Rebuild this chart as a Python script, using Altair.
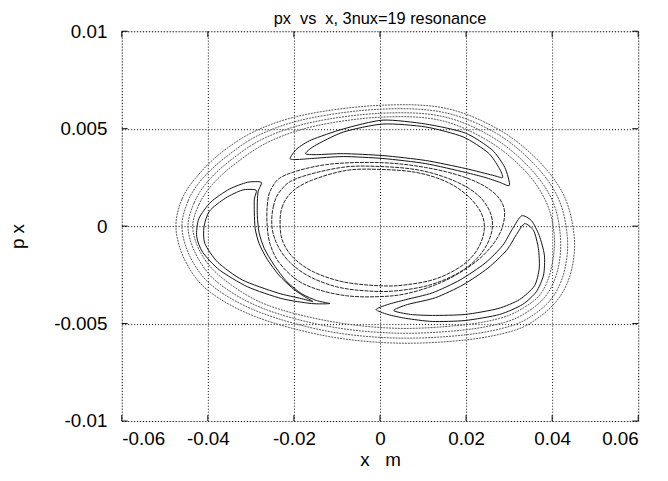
import altair as alt
import pandas as pd

TITLE = "px\u00a0\u00a0vs\u00a0\u00a0x, 3nux=19 resonance"
X_TITLE = "x\u00a0\u00a0\u00a0m"
Y_TITLE = "p x"
X_TICKS = [-0.06, -0.04, -0.02, 0, 0.02, 0.04, 0.06]
Y_TICKS = [-0.01, -0.005, 0, 0.005, 0.01]

# (x [m], px) points read along each orbit
OUTER_RING_1 = [(-0.0474, -0.00013), (-0.0460, 0.00139), (-0.0423, 0.00261), (-0.0366, 0.00382), (-0.0285, 0.00493), (-0.0170, 0.00574), (0.0, 0.00620), (0.0152, 0.00605), (0.0278, 0.00493), (0.0370, 0.00331), (0.0428, 0.00154), (0.0451, -0.00048), (0.0446, -0.00215), (0.0421, -0.00352), (0.0375, -0.00458), (0.0313, -0.00534), (0.0198, -0.00584), (0.0037, -0.00600), (-0.0124, -0.00564), (-0.0285, -0.00468), (-0.0396, -0.00336), (-0.0451, -0.00185)]
OUTER_RING_2 = [(-0.0460, -0.00013), (-0.0446, 0.00129), (-0.0412, 0.00245), (-0.0354, 0.00362), (-0.0276, 0.00473), (-0.0163, 0.00554), (0.0, 0.00600), (0.0147, 0.00584), (0.0269, 0.00478), (0.0359, 0.00316), (0.0414, 0.00144), (0.0435, -0.00048), (0.0430, -0.00215), (0.0405, -0.00352), (0.0361, -0.00448), (0.0301, -0.00514), (0.0193, -0.00559), (0.0037, -0.00574), (-0.0122, -0.00539), (-0.0278, -0.00443), (-0.0384, -0.00316), (-0.0437, -0.00175)]
OUTER_RING_3 = [(-0.0446, -0.00013), (-0.0432, 0.00119), (-0.0400, 0.00230), (-0.0345, 0.00342), (-0.0267, 0.00453), (-0.0156, 0.00534), (0.0, 0.00579), (0.0143, 0.00564), (0.0260, 0.00458), (0.0347, 0.00301), (0.0400, 0.00134), (0.0419, -0.00048), (0.0414, -0.00215), (0.0389, -0.00347), (0.0347, -0.00433), (0.0290, -0.00493), (0.0189, -0.00534), (0.0037, -0.00549), (-0.0120, -0.00514), (-0.0271, -0.00423), (-0.0373, -0.00296), (-0.0423, -0.00164)]
OUTER_RING_4 = [(-0.0435, -0.00013), (-0.0421, 0.00109), (-0.0389, 0.00215), (-0.0336, 0.00321), (-0.0258, 0.00433), (-0.0150, 0.00514), (0.0, 0.00559), (0.0138, 0.00544), (0.0251, 0.00438), (0.0336, 0.00286), (0.0386, 0.00124), (0.0405, -0.00048), (0.0398, -0.00215), (0.0375, -0.00342), (0.0334, -0.00418), (0.0278, -0.00473), (0.0184, -0.00509), (0.0037, -0.00524), (-0.0117, -0.00488), (-0.0265, -0.00402), (-0.0361, -0.00276), (-0.0412, -0.00154)]

CRESCENT_A_OUTER = [(-0.0209, 0.00347), (-0.0193, 0.00397), (-0.0159, 0.00443), (-0.0085, 0.00499), (0.0007, 0.00544), (0.0106, 0.00524), (0.0198, 0.00478), (0.0260, 0.00392), (0.0290, 0.00301), (0.0301, 0.00210), (0.0278, 0.00225), (0.0244, 0.00250), (0.0198, 0.00276), (0.0106, 0.00321), (0.0007, 0.00347), (-0.0085, 0.00357), (-0.0159, 0.00347), (-0.0193, 0.00342)]
CRESCENT_A_INNER = [(-0.0173, 0.00372), (-0.0152, 0.00412), (-0.0085, 0.00483), (0.0007, 0.00524), (0.0106, 0.00509), (0.0193, 0.00458), (0.0251, 0.00377), (0.0276, 0.00301), (0.0285, 0.00250), (0.0262, 0.00261), (0.0198, 0.00296), (0.0106, 0.00337), (0.0007, 0.00362), (-0.0085, 0.00372), (-0.0147, 0.00367)]
CRESCENT_B_OUTER = [(-0.0276, 0.00225), (-0.0308, 0.00225), (-0.0350, 0.00190), (-0.0393, 0.00124), (-0.0421, 0.00038), (-0.0426, -0.00053), (-0.0412, -0.00134), (-0.0373, -0.00225), (-0.0308, -0.00311), (-0.0228, -0.00372), (-0.0159, -0.00397), (-0.0117, -0.00397), (-0.0147, -0.00382), (-0.0182, -0.00347), (-0.0216, -0.00286), (-0.0246, -0.00200), (-0.0269, -0.00114), (-0.0281, -0.00033), (-0.0285, 0.00053), (-0.0285, 0.00129), (-0.0283, 0.00180)]
CRESCENT_B_INNER = [(-0.0288, 0.00185), (-0.0320, 0.00185), (-0.0359, 0.00144), (-0.0396, 0.00078), (-0.0409, -0.00003), (-0.0407, -0.00089), (-0.0377, -0.00185), (-0.0320, -0.00276), (-0.0239, -0.00342), (-0.0182, -0.00372), (-0.0156, -0.00387), (-0.0175, -0.00362), (-0.0202, -0.00321), (-0.0235, -0.00251), (-0.0262, -0.00170), (-0.0281, -0.00089), (-0.0290, -0.00013), (-0.0292, 0.00068), (-0.0292, 0.00139)]
CRESCENT_C_OUTER = [(-0.0009, -0.00428), (0.0018, -0.00402), (0.0060, -0.00377), (0.0122, -0.00342), (0.0186, -0.00276), (0.0244, -0.00190), (0.0285, -0.00099), (0.0308, -0.00013), (0.0329, 0.00053), (0.0352, 0.00028), (0.0370, -0.00048), (0.0382, -0.00149), (0.0380, -0.00251), (0.0363, -0.00337), (0.0331, -0.00402), (0.0278, -0.00453), (0.0198, -0.00484), (0.0122, -0.00489), (0.0060, -0.00473), (0.0018, -0.00453)]
CRESCENT_C_INNER = [(0.0032, -0.00433), (0.0064, -0.00402), (0.0129, -0.00367), (0.0193, -0.00301), (0.0251, -0.00215), (0.0294, -0.00124), (0.0317, -0.00043), (0.0336, 0.00013), (0.0357, -0.00023), (0.0368, -0.00114), (0.0370, -0.00215), (0.0359, -0.00306), (0.0324, -0.00377), (0.0274, -0.00423), (0.0198, -0.00453), (0.0122, -0.00458), (0.0071, -0.00453)]

INNER_RING_1 = [(-0.0232, -0.00003), (-0.0228, 0.00094), (-0.0205, 0.00175), (-0.0159, 0.00235), (-0.0078, 0.00286), (0.0, 0.00291), (0.0083, 0.00276), (0.0152, 0.00230), (0.0202, 0.00159), (0.0235, 0.00068), (0.0242, -0.00023), (0.0225, -0.00124), (0.0189, -0.00205), (0.0129, -0.00271), (0.0060, -0.00301), (0.0, -0.00306), (-0.0085, -0.00286), (-0.0154, -0.00235), (-0.0200, -0.00165), (-0.0225, -0.00084)]
INNER_RING_2 = [(-0.0251, -0.00003), (-0.0248, 0.00099), (-0.0232, 0.00180), (-0.0193, 0.00245), (-0.0090, 0.00301), (0.0, 0.00306), (0.0094, 0.00286), (0.0175, 0.00230), (0.0230, 0.00154), (0.0258, 0.00058), (0.0258, -0.00043), (0.0232, -0.00149), (0.0186, -0.00235), (0.0117, -0.00301), (0.0037, -0.00332), (-0.0032, -0.00332), (-0.0101, -0.00311), (-0.0166, -0.00256), (-0.0212, -0.00180), (-0.0239, -0.00094)]
INNER_RING_3 = [(-0.0262, -0.00003), (-0.0262, 0.00104), (-0.0253, 0.00190), (-0.0221, 0.00261), (-0.0124, 0.00316), (0.0, 0.00326), (0.0106, 0.00301), (0.0198, 0.00250), (0.0260, 0.00180), (0.0288, 0.00094), (0.0283, -0.00013), (0.0255, -0.00114), (0.0209, -0.00205), (0.0140, -0.00291), (0.0060, -0.00347), (-0.0009, -0.00362), (-0.0078, -0.00357), (-0.0143, -0.00326), (-0.0193, -0.00276), (-0.0235, -0.00185), (-0.0255, -0.00094)]

CURVES = {
    "outer": {"o1": OUTER_RING_1, "o2": OUTER_RING_2, "o3": OUTER_RING_3, "o4": OUTER_RING_4},
    "crescent": {"a1": CRESCENT_A_OUTER, "a2": CRESCENT_A_INNER, "b1": CRESCENT_B_OUTER,
                 "b2": CRESCENT_B_INNER, "c1": CRESCENT_C_OUTER, "c2": CRESCENT_C_INNER},
    "inner": {"i1": INNER_RING_1, "i2": INNER_RING_2, "i3": INNER_RING_3},
}

rows = []
for kind, group in CURVES.items():
    for name, pts in group.items():
        for i, (xv, pv) in enumerate(pts):
            rows.append({"kind": kind, "curve": name, "i": i, "x": xv, "px": pv})
df = pd.DataFrame(rows)

FONT = "Liberation Sans"
LABEL_EXPR = "replace(format(datum.value, '~g'), '\u2212', '-')"

x_axis = alt.Axis(values=X_TICKS, labelExpr=LABEL_EXPR, grid=True, gridDash=[1, 2],
                  gridColor="#000", gridOpacity=1, ticks=False, domain=False,
                  labelFont=FONT, labelFontSize=19, labelColor="#000", labelPadding=9,
                  title=X_TITLE, titleFont=FONT, titleFontSize=19, titleFontWeight="normal",
                  titleColor="#000", titleX=261, titleY=39, titleBaseline="middle")
y_axis = alt.Axis(values=Y_TICKS, labelExpr=LABEL_EXPR, grid=True, gridDash=[1, 2],
                  gridColor="#000", gridOpacity=1, ticks=False, domain=False,
                  labelFont=FONT, labelFontSize=19, labelColor="#000", labelPadding=15,
                  title=Y_TITLE, titleFont=FONT, titleFontSize=19, titleFontWeight="normal",
                  titleColor="#000", titleX=-105, titleY=207, titleBaseline="middle",
                  titleAlign="center")

X_ENC = alt.X("x:Q", scale=alt.Scale(domain=[-0.06, 0.06], nice=False, zero=False), axis=x_axis)
Y_ENC = alt.Y("px:Q", scale=alt.Scale(domain=[-0.01, 0.01], nice=False, zero=False), axis=y_axis)

W, H = 522, 394

base = alt.Chart(df).encode(x=X_ENC, y=Y_ENC, detail="curve:N", order=alt.Order("i:Q"))

outer = base.transform_filter(alt.datum.kind == "outer").mark_line(
    interpolate="cardinal-closed", tension=0, color="#555", strokeWidth=1, strokeDash=[2, 1])
cres = base.transform_filter(alt.datum.kind == "crescent").mark_line(
    interpolate="cardinal-closed", tension=0.3, color="#111", strokeWidth=1)
inner = base.transform_filter(alt.datum.kind == "inner").mark_line(
    interpolate="cardinal-closed", tension=0, color="#222", strokeWidth=1, strokeDash=[4, 1])

xt = pd.DataFrame({"x": X_TICKS})
yt = pd.DataFrame({"px": Y_TICKS})
tick_b = alt.Chart(xt).mark_rule(color="#000").encode(x=X_ENC, y=alt.value(H), y2=alt.value(H - 6))
tick_t = alt.Chart(xt).mark_rule(color="#000").encode(x=X_ENC, y=alt.value(0), y2=alt.value(6))
tick_l = alt.Chart(yt).mark_rule(color="#000").encode(y=Y_ENC, x=alt.value(0), x2=alt.value(6))
tick_r = alt.Chart(yt).mark_rule(color="#000").encode(y=Y_ENC, x=alt.value(W), x2=alt.value(W - 6))

title_mark = alt.Chart(pd.DataFrame({"t": [TITLE]})).mark_text(
    font=FONT, fontSize=16.5, color="#000", align="center", baseline="middle"
).encode(text="t:N", x=alt.value(W / 2), y=alt.value(-12))

chart = alt.layer(outer, inner, cres, tick_b, tick_t, tick_l, tick_r, title_mark).properties(
    width=W, height=H,
    autosize=alt.AutoSizeParams(type="none"),
    padding={"left": 115, "top": 21, "right": 22, "bottom": 50},
).configure_view(stroke="#000", strokeWidth=1).configure(background="white")

chart.save("out.html", embed_options={"renderer": "svg", "actions": False})
